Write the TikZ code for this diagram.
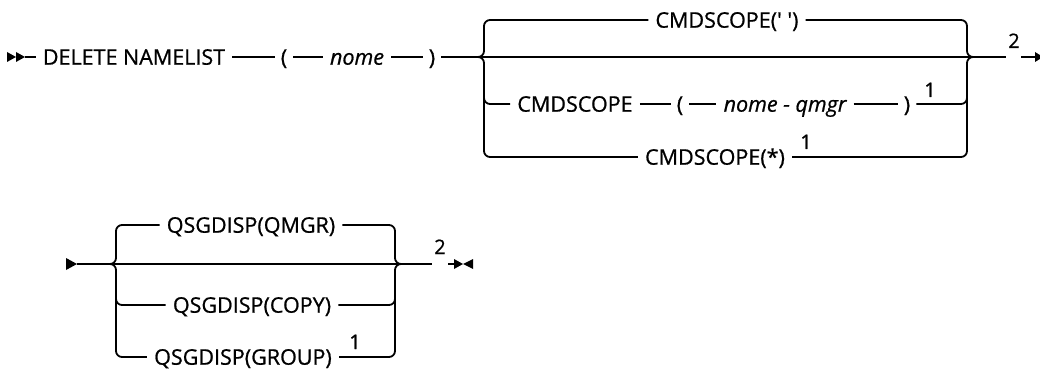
\documentclass[tikz,border=0pt]{standalone}
\usepackage{fontspec}
\setmainfont{Open Sans}[FakeBold=0.8]
\begin{document}
\begin{tikzpicture}[x=1pt,y=-1pt,
  ln/.style={line width=1.8pt},
  br/.style={line width=1.8pt, rounded corners=6pt},
  txt/.style={font=\fontsize{21.5}{24}\selectfont, inner xsep=7pt, inner ysep=0pt, text height=15.4pt, text depth=0pt},
  par/.style={txt, inner xsep=6pt},
  ital/.style={txt, font=\fontsize{21.5}{24}\selectfont\itshape},
  sup/.style={font=\fontsize{20}{22}\selectfont, inner sep=0pt, anchor=base}]
\useasboundingbox (0,0) rectangle (1040,371);

% ---------- row 1 ----------
\fill (7,52) -- (16,57) -- (7,62) -- cycle;
\fill (16,52) -- (25,57) -- (16,62) -- cycle;
\coordinate (s1) at (25,57);
\node[txt] (del) at (134,57) {DELETE NAMELIST};
\node[par] (lp1) at (284,57) {(};
\node[ital] (nome) at (357,57) {nome};
\node[par] (rp1) at (432,57) {)};
\coordinate (f1) at (478,57);
\coordinate (j1) at (973,57);
\draw[ln] (s1) -- (del.west);
\draw[ln] (del.east) -- (lp1.west);
\draw[ln] (lp1.east) -- (nome.west);
\draw[ln] (nome.east) -- (rp1.west);
\draw[ln] (rp1.east) -- (f1);
\draw[ln] (f1) -- (j1);

% top branch
\node[txt] (cs0) at (727,20) {CMDSCOPE(\textquotesingle\ \textquotesingle)};
\draw[br] (f1) -| (484,20) -- (cs0.west);
\draw[br] (cs0.east) -| (967,57) -- (j1);

% CMDSCOPE ( nome - qmgr )
\node[txt] (cs2) at (575,104) {CMDSCOPE};
\node[par] (lp2) at (680,104) {(};
\node[ital] (nq) at (785,104) {nome - qmgr};
\node[par] (rp2) at (907,104) {)};
\node[sup] (n2) at (930,97) {1};
\draw[br] (484,80) |- (cs2.west);
\draw[ln] (cs2.east) -- (lp2.west);
\draw[ln] (lp2.east) -- (nq.west);
\draw[ln] (nq.east) -- (rp2.west);
\draw[br] (rp2.east) -| (967,80);

% CMDSCOPE(*)
\node[txt] (cs3) at (715,157) {CMDSCOPE(*)};
\node[sup] (n3) at (806,149) {1};
\draw[br] (f1) -| (484,157) -- (cs3.west);
\draw[br] (cs3.east) -| (967,57) -- (j1);

% end of row 1
\coordinate (e1a) at (1006,57);
\coordinate (e1b) at (1021,57);
\coordinate (e1c) at (1036,57);
\node[sup] (r1n) at (1014,48) {2};
\draw[ln] (j1) -- (e1a);
\draw[ln] (e1b) -- (e1c);
\fill (1035,52) -- (1043,57) -- (1035,62) -- cycle;

% ---------- row 2 ----------
\fill (66,258) -- (77,264) -- (66,270) -- cycle;
\coordinate (s2) at (77,264);
\coordinate (f2) at (110,264);
\coordinate (j2) at (401,264);
\draw[ln] (s2) -- (f2) -- (j2);
\node[txt] (q1) at (251,225) {QSGDISP(QMGR)};
\node[txt] (q2) at (252,305) {QSGDISP(COPY)};
\node[txt] (q3) at (243,357) {QSGDISP(GROUP)};
\node[sup] (g1) at (355,349) {1};
\draw[br] (f2) -| (116,225) -- (q1.west);
\draw[br] (f2) -| (116,357) -- (q3.west);
\draw[br] (116,285) |- (q2.west);
\draw[br] (q1.east) -| (395,264) -- (j2);
\draw[br] (q3.east) -| (395,264) -- (j2);
\draw[br] (q2.east) -| (395,285);

\coordinate (e2a) at (432,264);
\coordinate (e2b) at (448,264);
\coordinate (e2c) at (455,264);
\node[sup] (r2n) at (440,254) {2};
\draw[ln] (j2) -- (e2a);
\draw[ln] (e2b) -- (e2c);
\fill (454,259) -- (463,264) -- (454,269) -- cycle;
\fill (473,259) -- (463,264) -- (473,269) -- cycle;
\end{tikzpicture}
\end{document}
